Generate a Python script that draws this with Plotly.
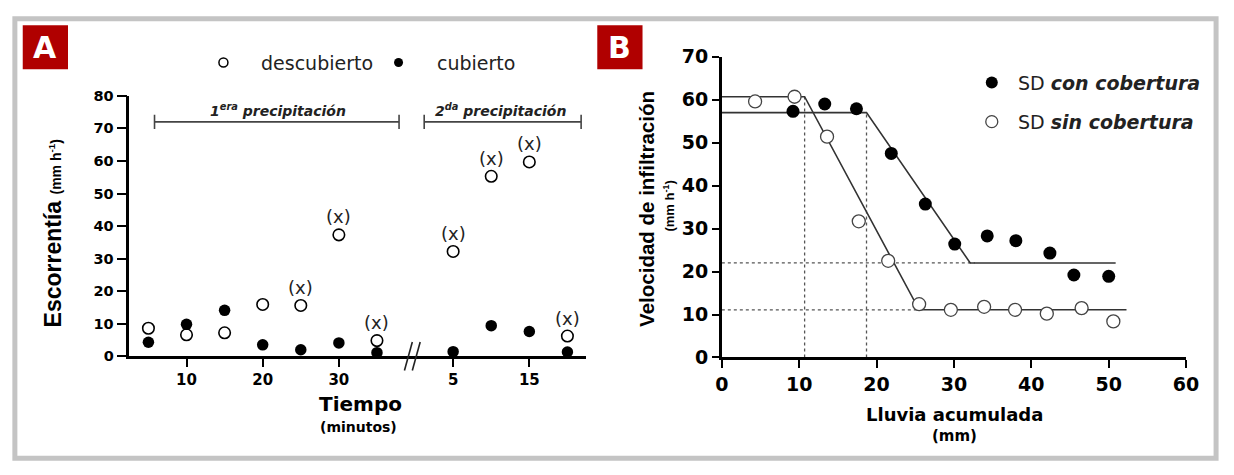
import plotly.graph_objects as go

W, H = 1234, 475

# ---------------- Panel A data ----------------
tiempo_1 = [5, 10, 15, 20, 25, 30, 35]          # 1ª precipitación (min)
tiempo_2 = [5, 10, 15, 20]                      # 2ª precipitación (min)
BREAK_OFFSET = 40                               # axis offset for second segment
descubierto_1 = [8.6, 6.6, 7.2, 15.9, 15.6, 37.3, 4.8]
descubierto_2 = [32.2, 55.3, 59.7, 6.2]
cubierto_1 = [4.3, 9.8, 14.1, 3.5, 2.0, 4.1, 1.1]
cubierto_2 = [1.4, 9.4, 7.6, 1.3]
marca_x_1 = [False, False, False, False, True, True, True]
marca_x_2 = [True, True, True, True]
ticks_A_1 = [10, 20, 30]
ticks_A_2 = [5, 15]
bracket_1 = [5.8, 37.9]
bracket_2 = [41.2, 61.8]
bracket_y = 72

# ---------------- Panel B data ----------------
con_x = [9.2, 13.3, 17.4, 21.9, 26.3, 30.1, 34.3, 38.0, 42.4, 45.5, 50.0]
con_y = [57.3, 59.0, 57.9, 47.5, 35.7, 26.4, 28.3, 27.2, 24.3, 19.2, 18.9]
sin_x = [4.3, 9.4, 13.6, 17.7, 21.5, 25.5, 29.6, 33.9, 37.9, 42.0, 46.5, 50.6]
sin_y = [59.6, 60.7, 51.4, 31.7, 22.5, 12.4, 11.1, 11.8, 11.1, 10.2, 11.5, 8.4]
con_fit_x = [0, 18.7, 32.1, 50.9]
con_fit_y = [57.0, 57.0, 22.0, 22.0]
sin_fit_x = [0, 10.7, 25.5, 52.3]
sin_fit_y = [60.7, 60.7, 11.1, 11.1]
quiebre_x = [10.7, 18.7]
quiebre_x_top = [60.7, 57.0]
basal_y = [22.0, 11.1]
basal_x_end = [32.7, 25.5]


def fx(px):
    return px / W


def fy(py):
    return 1 - py / H


BOLD = dict(family="DejaVu Sans", color="black", weight="bold")

fig = go.Figure()

# ---------- Panel A traces ----------
xa_desc = tiempo_1 + [t + BREAK_OFFSET for t in tiempo_2]
ya_desc = descubierto_1 + descubierto_2
ya_cub = cubierto_1 + cubierto_2

fig.add_trace(go.Scatter(x=xa_desc, y=ya_desc, mode="markers", xaxis="x", yaxis="y",
                         marker=dict(symbol="circle", size=11.5, color="white",
                                     line=dict(color="black", width=1.6)),
                         cliponaxis=False, showlegend=False, name="descubierto"))
fig.add_trace(go.Scatter(x=xa_desc, y=ya_cub, mode="markers", xaxis="x", yaxis="y",
                         marker=dict(symbol="circle", size=11.5, color="black"),
                         cliponaxis=False, showlegend=False, name="cubierto"))

# ---------- Panel B traces ----------
for xq, yt in zip(quiebre_x, quiebre_x_top):
    fig.add_trace(go.Scatter(x=[xq, xq], y=[0, yt], mode="lines", xaxis="x2", yaxis="y2",
                             line=dict(color="#555", width=1.3, dash="dot"), showlegend=False))
for yb, xe in zip(basal_y, basal_x_end):
    fig.add_trace(go.Scatter(x=[0, xe], y=[yb, yb], mode="lines", xaxis="x2", yaxis="y2",
                             line=dict(color="#555", width=1.3, dash="dot"), showlegend=False))
fig.add_trace(go.Scatter(x=con_fit_x, y=con_fit_y, mode="lines", xaxis="x2", yaxis="y2",
                         line=dict(color="#333", width=1.6), showlegend=False))
fig.add_trace(go.Scatter(x=sin_fit_x, y=sin_fit_y, mode="lines", xaxis="x2", yaxis="y2",
                         line=dict(color="#333", width=1.6), showlegend=False))
fig.add_trace(go.Scatter(x=con_x, y=con_y, mode="markers", xaxis="x2", yaxis="y2",
                         marker=dict(symbol="circle", size=13, color="black"),
                         cliponaxis=False, showlegend=False, name="SD con cobertura"))
fig.add_trace(go.Scatter(x=sin_x, y=sin_y, mode="markers", xaxis="x2", yaxis="y2",
                         marker=dict(symbol="circle", size=13, color="white",
                                     line=dict(color="#444", width=1.3)),
                         cliponaxis=False, showlegend=False, name="SD sin cobertura"))

# ---------- legend markers (pixel overlay axis) ----------
fig.add_trace(go.Scatter(x=[220], y=[54], mode="markers", xaxis="x3", yaxis="y3",
                         marker=dict(size=9, color="white", line=dict(color="black", width=1.5)),
                         showlegend=False, cliponaxis=False))
fig.add_trace(go.Scatter(x=[398], y=[54], mode="markers", xaxis="x3", yaxis="y3",
                         marker=dict(size=9, color="black"), showlegend=False, cliponaxis=False))
fig.add_trace(go.Scatter(x=[1001], y=[75], mode="markers", xaxis="x3", yaxis="y3",
                         marker=dict(size=12, color="black"), showlegend=False, cliponaxis=False))
fig.add_trace(go.Scatter(x=[1001], y=[116], mode="markers", xaxis="x3", yaxis="y3",
                         marker=dict(size=12, color="white", line=dict(color="#444", width=1.3)),
                         showlegend=False, cliponaxis=False))

axis_common = dict(showline=True, linewidth=2.5, linecolor="black", ticks="outside",
                   tickwidth=2, tickcolor="black", showgrid=False, zeroline=False, mirror=False)

fig.update_layout(
    width=W, height=H, margin=dict(l=0, r=0, t=0, b=0),
    paper_bgcolor="white", plot_bgcolor="rgba(0,0,0,0)",
    xaxis=dict(domain=[fx(124.4), fx(589)], range=[2.5, 62.5], anchor="y",
               tickvals=ticks_A_1 + [t + BREAK_OFFSET for t in ticks_A_2],
               ticktext=[str(t) for t in ticks_A_1] + [str(t) for t in ticks_A_2],
               ticklen=8, tickfont=dict(size=15, **BOLD), **axis_common),
    yaxis=dict(domain=[fy(362), fy(89)], range=[0, 80], anchor="x",
               tickvals=list(range(0, 81, 10)), ticklen=10,
               tickfont=dict(size=14.5, **BOLD), **axis_common),
    xaxis2=dict(domain=[fx(726.6), fx(1198.5)], range=[0, 60], anchor="y2",
                tickvals=list(range(0, 61, 10)), ticklen=8,
                tickfont=dict(size=19, **BOLD), **axis_common),
    yaxis2=dict(domain=[fy(363.3), fy(48)], range=[0, 70], anchor="x2",
                tickvals=list(range(0, 71, 10)), ticklen=7,
                tickfont=dict(size=19, **BOLD), **axis_common),
    xaxis3=dict(domain=[0, 1], range=[0, W], anchor="y3", visible=False, fixedrange=True),
    yaxis3=dict(domain=[0, 1], range=[H, 0], anchor="x3", visible=False, fixedrange=True),
)

shapes = []
# brackets (data coords, panel A)
for b in (bracket_1, bracket_2):
    shapes.append(dict(type="line", xref="x", yref="y", x0=b[0], x1=b[1], y0=bracket_y, y1=bracket_y,
                       line=dict(color="#444", width=1.6)))
    for xe in b:
        shapes.append(dict(type="line", xref="x", yref="y", x0=xe, x1=xe,
                           y0=bracket_y - 2.2, y1=bracket_y + 2.2, line=dict(color="#444", width=1.6)))
# axis break marks
for dx in (0, 8):
    shapes.append(dict(type="line", xref="x3", yref="y3", x0=404 + dx, x1=412 + dx, y0=377, y1=347,
                       line=dict(color="#222", width=1.6)))
# red panel labels
shapes.append(dict(type="rect", xref="x3", yref="y3", x0=16, x1=62, y0=15, y1=61,
                   fillcolor="#B00000", line=dict(width=0)))
shapes.append(dict(type="rect", xref="x3", yref="y3", x0=600, x1=646, y0=15, y1=61,
                   fillcolor="#B00000", line=dict(width=0)))
# outer frame
shapes.append(dict(type="rect", xref="x3", yref="y3", x0=8, x1=1229, y0=8, y1=469,
                   line=dict(color="#C4C4C4", width=5)))
fig.update_layout(shapes=shapes)

ann = []


def A(x, y, text, size, family="DejaVu Sans", xanchor="center", angle=0, color="black", weight="normal"):
    ann.append(dict(xref="x3", yref="y3", x=x, y=y, text=text, showarrow=False,
                    xanchor=xanchor, yanchor="middle", textangle=angle,
                    font=dict(family=family, size=size, color=color, weight=weight)))


A(39, 38, "A", 30, color="white", weight="bold")
A(623, 38, "B", 30, color="white", weight="bold")

# legend texts
A(256, 54, "descubierto", 19, xanchor="left", color="#222")
A(435, 54, "cubierto", 19, xanchor="left", color="#222")
A(1026, 75, "SD <b><i>con cobertura</i></b>", 19, xanchor="left", color="#222")
A(1026, 116, "SD <b><i>sin cobertura</i></b>", 19, xanchor="left", color="#222")

# bracket labels
A(275, 104, "<b><i>1<sup>era</sup> precipitación</i></b>", 14, color="#222")
A(502, 104, "<b><i>2<sup>da</sup> precipitación</i></b>", 14, color="#222")

# axis titles
A(47, 233, "<b>Escorrentía</b> <span style='font-size:14px'><b>(mm h<sup>-1</sup>)</b></span>", 23,
  family="Liberation Sans", angle=-90)
A(359, 412, "<b>Tiempo</b>", 20)
A(357, 436, "<b>(minutos)</b>", 14)
A(650, 207, "<b>Velocidad de infiltración</b>", 20.5, family="Liberation Sans", angle=-90)
A(672, 205, "<b>(mm h<sup>-1</sup>)</b>", 13, family="Liberation Sans", angle=-90)
A(963, 423, "<b>Lluvia acumulada</b>", 18)
A(963, 446, "<b>(mm)</b>", 15)

# (x) marks above uncovered points
flags = marca_x_1 + marca_x_2
for xv, yv, f in zip(xa_desc, ya_desc, flags):
    if f:
        ann.append(dict(xref="x", yref="y", x=xv, y=yv, yshift=18, text="(x)", showarrow=False,
                        font=dict(family="DejaVu Sans", size=18, color="#222")))

fig.update_layout(annotations=ann)
fig.write_html("out.html")
